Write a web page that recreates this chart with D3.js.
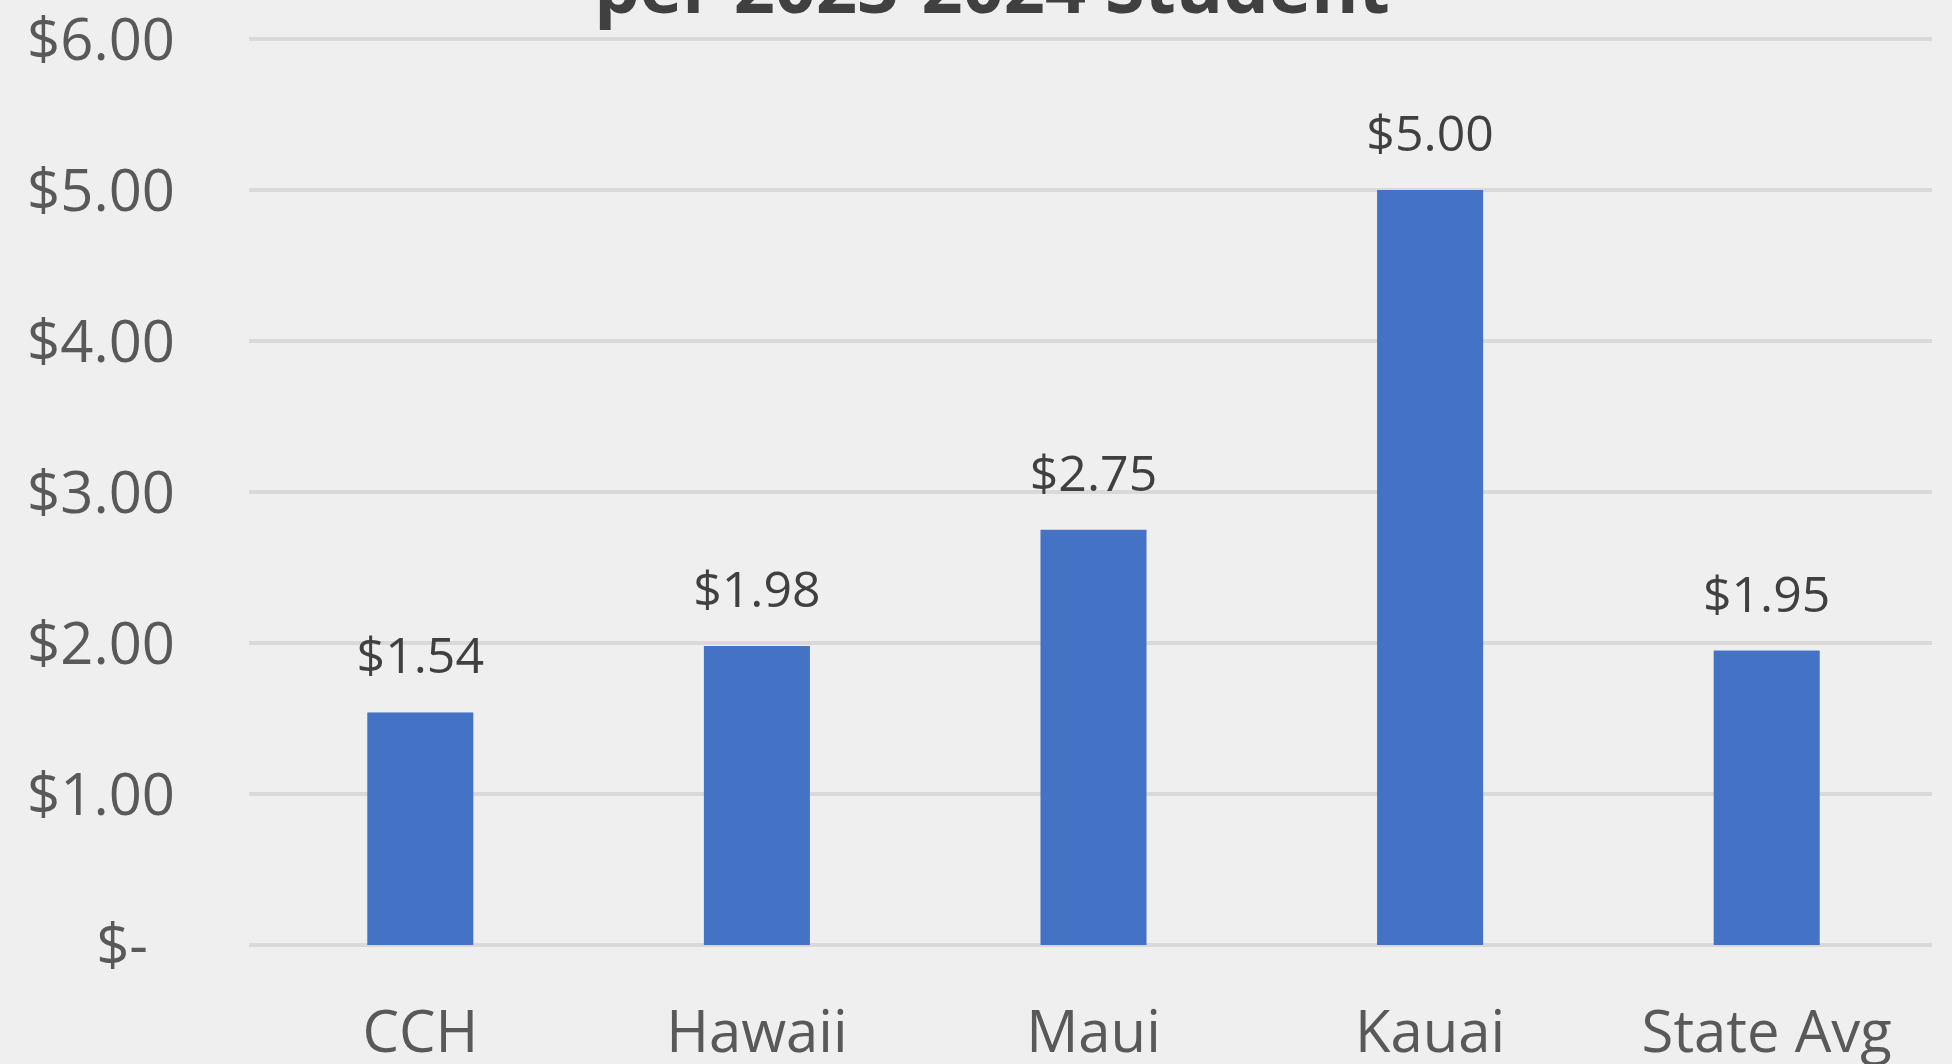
<!DOCTYPE html>
<html>
<head>
<meta charset="utf-8">
<script src="https://cdn.jsdelivr.net/npm/d3@7"></script>
<style>
  html, body { margin: 0; padding: 0; background: #efefef; }
  svg { display: block; }
  text { font-family: "Open Sans", "Noto Sans", sans-serif; }
</style>
</head>
<body>
<script>
// chart data
const categories = ["CCH", "Hawaii", "Maui", "Kauai", "State Avg"];
const values = [1.54, 1.98, 2.75, 5.00, 1.95];
const yTicks = [0, 1, 2, 3, 4, 5, 6];
const titleLine = "per 2023-2024 Student";

const width = 1952, height = 1064;
const margin = {top: 39, right: 17, bottom: 119, left: 252};

const svg = d3.select("body").append("svg")
    .attr("width", width)
    .attr("height", height);

svg.append("rect")
    .attr("width", width)
    .attr("height", height)
    .attr("fill", "#efefef");

const x = d3.scaleBand()
    .domain(categories)
    .range([margin.left, width - margin.right])
    .paddingInner(0.685)
    .paddingOuter(0.3425);

const y = d3.scaleLinear()
    .domain([0, 6])
    .range([height - margin.bottom, margin.top]);

const money = v => v === 0 ? "$-" : "$" + d3.format(".2f")(v);

// gridlines
svg.append("g")
  .selectAll("line")
  .data(yTicks)
  .join("line")
    .attr("x1", margin.left - 3)
    .attr("x2", width - margin.right - 3)
    .attr("y1", d => y(d))
    .attr("y2", d => y(d))
    .attr("stroke", "#d9d9d9")
    .attr("stroke-width", 4);

// y axis labels
const yAxis = svg.append("g")
    .attr("transform", `translate(${margin.left - 77},0)`)
    .call(d3.axisLeft(y).tickValues(yTicks).tickFormat(money).tickSize(0).tickPadding(0));
yAxis.select(".domain").remove();
yAxis.selectAll("text")
    .attr("font-size", 58)
    .attr("fill", "#595959")
    .attr("dy", "0.35em")
    .attr("dx", d => d === 0 ? -27 : 0)
    .style("font-family", "'Open Sans', sans-serif");

// x axis labels
const xAxis = svg.append("g")
    .attr("transform", `translate(0,${y(0)})`)
    .call(d3.axisBottom(x).tickSize(0).tickPadding(0));
xAxis.select(".domain").remove();
xAxis.selectAll("text")
    .attr("font-size", 58)
    .attr("fill", "#595959")
    .attr("y", 107)
    .attr("dy", 0)
    .style("font-family", "'Open Sans', sans-serif");

// bars
svg.append("g")
  .selectAll("rect")
  .data(values)
  .join("rect")
    .attr("x", (d, i) => x(categories[i]))
    .attr("width", x.bandwidth())
    .attr("y", d => y(d))
    .attr("height", d => y(0) - y(d))
    .attr("fill", "#4472c4");

// data labels
svg.append("g")
  .selectAll("text")
  .data(values)
  .join("text")
    .attr("x", (d, i) => x(categories[i]) + x.bandwidth() / 2)
    .attr("y", d => y(d) - 39)
    .attr("text-anchor", "middle")
    .attr("font-size", 50)
    .attr("fill", "#404040")
    .text(money);

// title (only the lower line is visible in the frame)
svg.append("text")
    .attr("x", 992)
    .attr("y", 13)
    .attr("text-anchor", "middle")
    .attr("font-size", 72)
    .attr("font-weight", "bold")
    .attr("fill", "#404040")
    .text(titleLine);
</script>
</body>
</html>
